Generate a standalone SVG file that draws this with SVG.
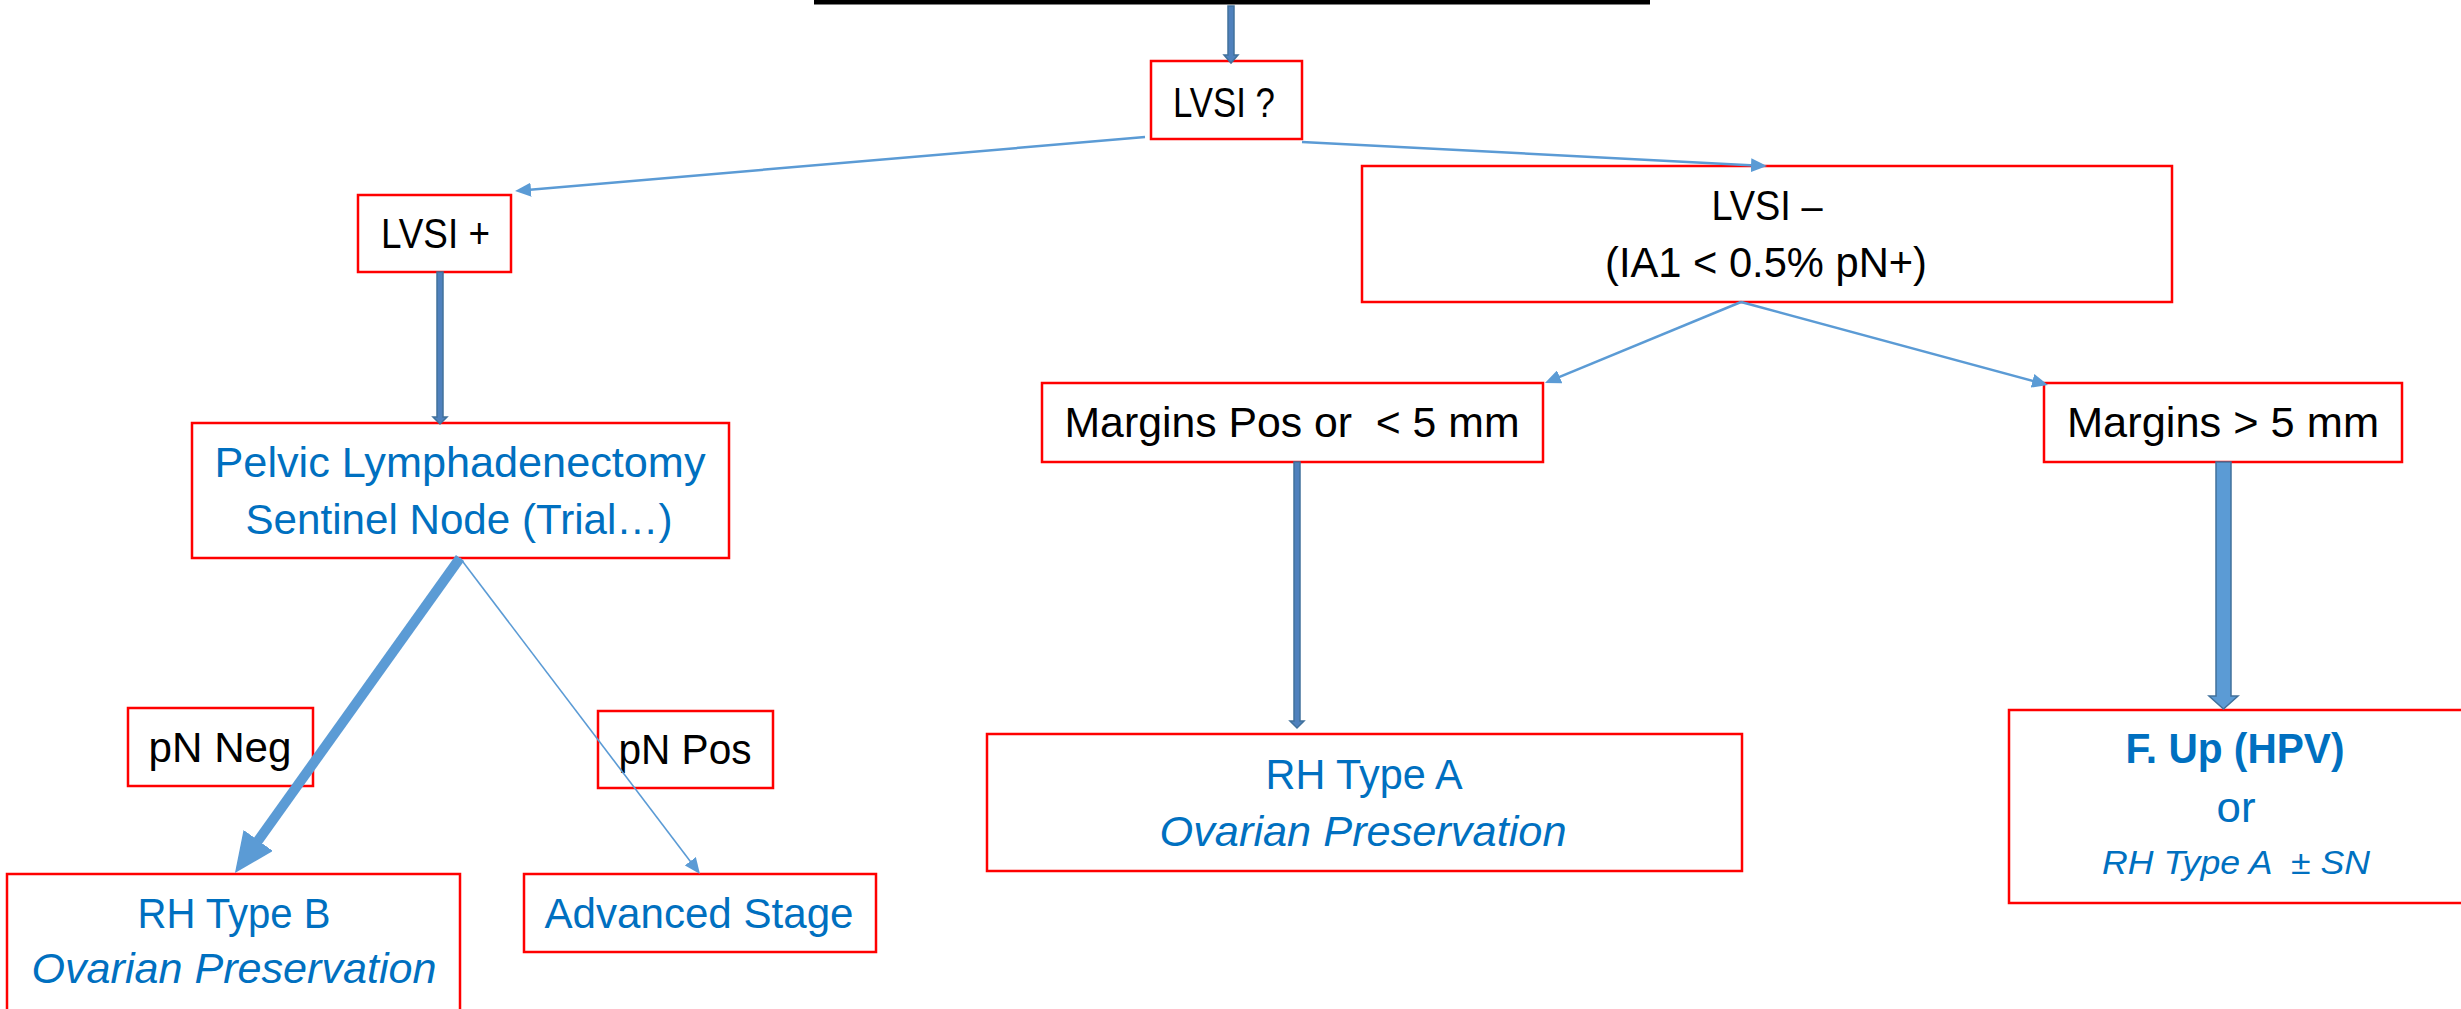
<svg xmlns="http://www.w3.org/2000/svg" width="2461" height="1009" viewBox="0 0 2461 1009">
<style>
.bx{fill:#FFFFFF;stroke:#FF0000;stroke-width:2.5}
.t{font-family:"Liberation Sans",Arial,sans-serif;font-size:42px;fill:#000000;text-anchor:middle}
.bl{fill:#0070C0}
.it{font-style:italic}
.bd{font-weight:bold}
.ln{fill:none;stroke:#5B9BD5;stroke-width:2.5}
.blk{fill:#4F81BD;stroke:#41719C;stroke-width:1.5}
.blk2{fill:#5B9BD5;stroke:#41719C;stroke-width:1.5}
</style>
<defs>
<marker id="ah" markerUnits="userSpaceOnUse" markerWidth="16" markerHeight="14" viewBox="0 0 16 14" refX="4" refY="7" orient="auto">
<path d="M0,0 L16,7 L0,14 z" fill="#5B9BD5"/>
</marker>
<marker id="ahBig" markerUnits="userSpaceOnUse" markerWidth="40" markerHeight="36" viewBox="0 0 40 36" refX="5" refY="18" orient="auto">
<path d="M0,0 L40,18 L0,36 z" fill="#5B9BD5"/>
</marker>
</defs>
<rect width="2461" height="1009" fill="#FFFFFF"/>
<rect id="topbar" x="814" y="0" width="836" height="4.5" fill="#000000"/>

<g id="n-lvsiq"><rect class="bx" x="1151" y="61" width="151" height="78"/><text class="t" x="1224" y="117" textLength="102" lengthAdjust="spacingAndGlyphs">LVSI ?</text></g>
<g id="n-lvsipos"><rect class="bx" x="358" y="195" width="153" height="77"/><text class="t" x="435.5" y="248" textLength="109" lengthAdjust="spacingAndGlyphs">LVSI +</text></g>
<g id="n-lvsineg"><rect class="bx" x="1362" y="166" width="810" height="136"/><text class="t" x="1767" y="220" textLength="111" lengthAdjust="spacingAndGlyphs">LVSI –</text><text class="t" x="1766" y="277" textLength="322" lengthAdjust="spacingAndGlyphs">(IA1 &lt; 0.5% pN+)</text></g>
<g id="n-marginspos"><rect class="bx" x="1042" y="383" width="501" height="79"/><text class="t" x="1292" y="437" textLength="455" lengthAdjust="spacingAndGlyphs" xml:space="preserve">Margins Pos or  &lt; 5 mm</text></g>
<g id="n-margins5"><rect class="bx" x="2044" y="383" width="358" height="79"/><text class="t" x="2223" y="437" textLength="312" lengthAdjust="spacingAndGlyphs">Margins &gt; 5 mm</text></g>
<g id="n-pelvic"><rect class="bx" x="192" y="423" width="537" height="135"/><text class="t bl" x="460" y="477" textLength="491" lengthAdjust="spacingAndGlyphs">Pelvic Lymphadenectomy</text><text class="t bl" x="459" y="534" textLength="427" lengthAdjust="spacingAndGlyphs">Sentinel Node (Trial…)</text></g>
<g id="n-pnneg"><rect class="bx" x="128" y="708" width="185" height="78"/><text class="t" x="220" y="762" textLength="143" lengthAdjust="spacingAndGlyphs">pN Neg</text></g>
<g id="n-pnpos"><rect class="bx" x="598" y="711" width="175" height="77"/><text class="t" x="685" y="764" textLength="133" lengthAdjust="spacingAndGlyphs">pN Pos</text></g>
<g id="n-rhb"><rect class="bx" x="7" y="874" width="453" height="140"/><text class="t bl" x="234" y="928" textLength="193" lengthAdjust="spacingAndGlyphs">RH Type B</text><text class="t bl it" x="234" y="983" textLength="405" lengthAdjust="spacingAndGlyphs">Ovarian Preservation</text></g>
<g id="n-advanced"><rect class="bx" x="524" y="874" width="352" height="78"/><text class="t bl" x="699" y="928" textLength="309" lengthAdjust="spacingAndGlyphs">Advanced Stage</text></g>
<g id="n-rha"><rect class="bx" x="987" y="734" width="755" height="137"/><text class="t bl" x="1364" y="789" textLength="197" lengthAdjust="spacingAndGlyphs">RH Type A</text><text class="t bl it" x="1363" y="846" textLength="407" lengthAdjust="spacingAndGlyphs">Ovarian Preservation</text></g>
<g id="n-fup"><rect class="bx" x="2009" y="710" width="470" height="193"/><text class="t bl bd" x="2235" y="763" textLength="219" lengthAdjust="spacingAndGlyphs">F. Up (HPV)</text><text class="t bl" x="2236" y="822" textLength="39" lengthAdjust="spacingAndGlyphs">or</text><text class="t bl it" x="2236" y="874" style="font-size:34px" textLength="268" lengthAdjust="spacingAndGlyphs" xml:space="preserve">RH Type A  ± SN</text></g>

<g id="connectors">
<polygon class="blk" points="1228,6 1234,6 1234,55 1238,55 1231,63 1224,55 1228,55"/>
<polygon class="blk" points="437,272 443,272 443,417 447,417 440,424 433,417 437,417"/>
<polygon class="blk" points="1294,462 1300,462 1300,721 1304,721 1297,728 1290,721 1294,721"/>
<polygon class="blk2" points="2216,462 2231,462 2231,696 2238,696 2223.5,709 2209,696 2216,696"/>
<line class="ln" x1="1145" y1="137" x2="527" y2="190" marker-end="url(#ah)"/>
<line class="ln" x1="1302" y1="142" x2="1755" y2="165.4" marker-end="url(#ah)"/>
<line class="ln" x1="1741" y1="302" x2="1556" y2="378.4" marker-end="url(#ah)"/>
<line class="ln" x1="1741" y1="302" x2="2036.4" y2="381.9" marker-end="url(#ah)"/>
<line class="ln" style="stroke-width:1.6" x1="460" y1="558" x2="692.7" y2="864.4" marker-end="url(#ah)"/>
<line class="ln" style="stroke-width:10" x1="460" y1="558" x2="255.3" y2="844.5" marker-end="url(#ahBig)"/>
</g>
</svg>
